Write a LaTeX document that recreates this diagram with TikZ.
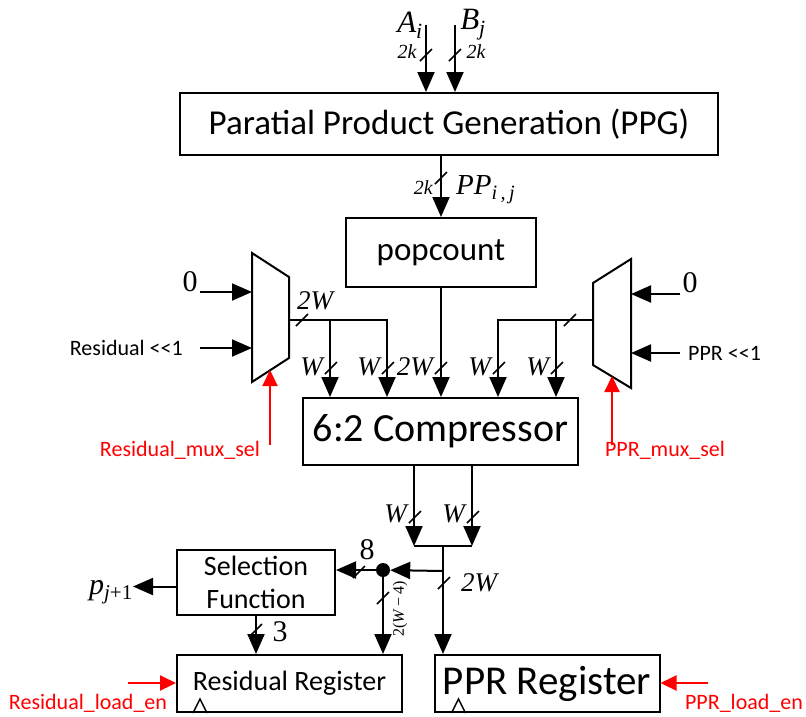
\documentclass[tikz,border=0pt]{standalone}
\usepackage{fontspec}
\setmainfont{Carlito}
\newfontfamily\tms{Liberation Serif}
\usetikzlibrary{arrows.meta,positioning,calc}

\newcommand{\fs}[1]{\fontsize{#1}{#1}\selectfont}

\tikzset{
  blk/.style={draw, line width=2pt, inner sep=0pt},
  wire/.style={line width=2pt},
  bus/.style={wire, -{Triangle[length=20pt,width=17pt]}},
  ctl/.style={red, line width=2.2pt, -{Triangle[length=16pt,width=15pt]}},
  lbl/.style={inner sep=0pt, font=\tms\itshape\fs{27}},
  num/.style={inner sep=2pt, font=\tms\fs{30}},
  wd/.style={inner sep=0pt, font=\tms\itshape\fs{20}},
  sig/.style={inner sep=0pt, font=\fs{22}},
  redsig/.style={sig, red},
  pics/slash/.style={code={\draw[line width=1.6pt] (-6,6) -- (6,-6);}},
  pics/clk/.style={code={\draw[line width=1.4pt] (-7,0) -- (0,-14) -- (7,0);}},
}

\begin{document}
\begin{tikzpicture}[x=1pt,y=-1pt]
  \useasboundingbox (0,0) rectangle (806,716);

  % blocks
  \node[blk, minimum width=538pt, minimum height=62pt, font=\fs{35}] (ppg) at (449,124) {Paratial Product Generation (PPG)};
  \node[blk, minimum width=190pt, minimum height=69pt, font=\fs{33}] (pop) at (441,252.5) {popcount};
  \node[blk, minimum width=275pt, minimum height=67pt, font=\fs{40}] (comp) at (440.5,431.5) {6:2 Compressor};
  \node[blk, minimum width=158pt, minimum height=65pt, font=\fontsize{28}{33}\selectfont, align=center] (sel) at (256,582.5) {Selection\\Function};
  \node[blk, minimum width=225pt, minimum height=57pt, font=\fs{28}] (resreg) at (289.5,683.5) {Residual Register};
  \node[blk, minimum width=225pt, minimum height=57pt, font=\fs{41}] (pprreg) at (547,683.5) {PPR Register};
  \path (resreg.south west) ++(24,0) pic {clk};
  \path (pprreg.south west) ++(25,0) pic {clk};

  % multiplexers
  \draw[wire] (252,253) -- (289,277) -- (289,358) -- (252,382) -- cycle;
  \coordinate (muxLa) at (252,292);
  \coordinate (muxLb) at (252,348);
  \coordinate (muxLo) at (289,320);
  \coordinate (muxLs) at (270,370);
  \draw[wire] (631,259) -- (593,283) -- (593,365) -- (631,388) -- cycle;
  \coordinate (muxRa) at (631,294);
  \coordinate (muxRb) at (631,353);
  \coordinate (muxRo) at (593,320);
  \coordinate (muxRs) at (612,376);

  % inputs A, B
  \coordinate (ain) at (426,25);
  \coordinate (bin) at (455,25);
  \draw[bus] (ain) -- (ain |- ppg.north);
  \draw[bus] (bin) -- (bin |- ppg.north);
  \node[lbl, font=\tms\itshape\fs{31}] (alab) at (410,25) {A\textsubscript{i}};
  \node[lbl, font=\tms\itshape\fs{31}] (blab) at (473,25) {B\textsubscript{j}};
  \pic at (426,55) {slash};
  \pic at (455,55) {slash};
  \node[wd] at (407,52) {2k};
  \node[wd] at (476,52) {2k};

  % PPG -> popcount
  \draw[bus] (ppg.south -| pop.north) -- (pop.north);
  \pic at (441,178) {slash};
  \node[wd, anchor=east] at (433,188) {2k};
  \node[lbl, font=\tms\itshape\fs{29}, anchor=west] at (456,190) {PP\textsubscript{i\,,\,j}};

  % mux inputs
  \node[num] (zeroL) at (190,282) {0};
  \draw[bus] (zeroL.east |- muxLa) -- (muxLa);
  \node[sig, anchor=east] (resin) at (183,348) {Residual <{}<1};
  \draw[bus] ([xshift=17pt]resin.east) -- (muxLb);
  \node[num] (zeroR) at (690,283) {0};
  \draw[bus] (zeroR.west |- muxRa) -- (muxRa);
  \node[sig, anchor=west] (pprin) at (688,353) {PPR <{}<1};
  \draw[bus] ([xshift=-8pt]pprin.west) -- (muxRb);

  % mux select
  \node[redsig] (rms) at (180,450) {Residual\_mux\_sel};
  \coordinate (rmsrc) at (270,445);
  \draw[ctl] (rmsrc) -- (muxLs);
  \node[redsig] (pms) at (665,450) {PPR\_mux\_sel};
  \coordinate (pmsrc) at (612,445);
  \draw[ctl] (pmsrc) -- (muxRs);

  % into the compressor
  \path (comp.north west) ++(28,0) coordinate (ciA) ++(57,0) coordinate (ciB);
  \path (comp.north west) ++(196,0) coordinate (ciD) ++(58,0) coordinate (ciE);
  \draw[bus] (muxLo) -| (ciB);
  \draw[bus] (ciA |- muxLo) -- (ciA);
  \draw[bus] (pop.south) -- (pop.south |- comp.north);
  \draw[bus] (muxRo) -| (ciD);
  \draw[bus] (ciE |- muxRo) -- (ciE);
  \pic at (302,320) {slash};
  \node[lbl] at (315,301) {2W};
  \pic at (570,320) {slash};
  \pic at (331,368) {slash};
  \node[lbl, anchor=east] at (323,367) {W};
  \pic at (388,368) {slash};
  \node[lbl, anchor=east] at (380,367) {W};
  \pic at (441,368) {slash};
  \node[lbl, anchor=east] at (433,367) {2W};
  \pic at (499,368) {slash};
  \node[lbl, anchor=east] at (491,367) {W};
  \pic at (557,368) {slash};
  \node[lbl, anchor=east] at (549,367) {W};

  % compressor outputs
  \path (comp.south west) ++(112,0) coordinate (coA) ++(58,0) coordinate (coB);
  \path (coA) ++(0,80) coordinate (jA);
  \path (coB) ++(0,80) coordinate (jB);
  \draw[bus] (coA) -- (jA);
  \draw[bus] (coB) -- (jB);
  \draw[wire] (jA) -- (jB);
  \coordinate (jM) at ($(jA)!0.5!(jB)$);
  \path (jM) ++(0,25) coordinate (tap);
  \draw[bus] (jM) -- (jM |- pprreg.north);
  \pic at (415,517) {slash};
  \node[lbl, anchor=east] at (407,514) {W};
  \pic at (473,517) {slash};
  \node[lbl, anchor=east] at (465,514) {W};
  \pic at (444,583) {slash};
  \node[lbl] at (479,583) {2W};

  % split to selection function and residual register
  \node[circle, fill, inner sep=0pt, minimum size=14pt] (dot) at (383,570) {};
  \draw[bus] (tap) -- (dot);
  \draw[bus] (dot) -- (dot -| sel.east);
  \draw[bus] (dot) -- (dot |- resreg.north);
  \pic at (359,572) {slash};
  \node[num] at (367,550) {8};
  \pic at (383,598) {slash};
  \node[inner sep=0pt, font=\tms\fs{16}, rotate=90] at (400,609) {2(\textit{W}\,\textminus\,4)};

  \draw[bus] (sel.south) -- (sel.south |- resreg.north);
  \pic at (256,630) {slash};
  \node[num] at (280,632) {3};

  \node[inner sep=0pt, font=\tms\itshape\fs{30}, anchor=east] (pout) at (133,592) {p\textsubscript{j\textup{+1}}};
  \coordinate (selo) at ([yshift=-4pt]sel.west);
  \draw[bus] (selo) -- (selo -| pout.east);

  % load enables
  \node[redsig] (rle) at (88,703) {Residual\_load\_en};
  \coordinate (rlesrc) at (128,683);
  \draw[ctl] (rlesrc) -- (rlesrc -| resreg.west);
  \node[redsig] (ple) at (744,703) {PPR\_load\_en};
  \coordinate (plesrc) at (708,683);
  \draw[ctl] (plesrc) -- (plesrc -| pprreg.east);
\end{tikzpicture}
\end{document}
